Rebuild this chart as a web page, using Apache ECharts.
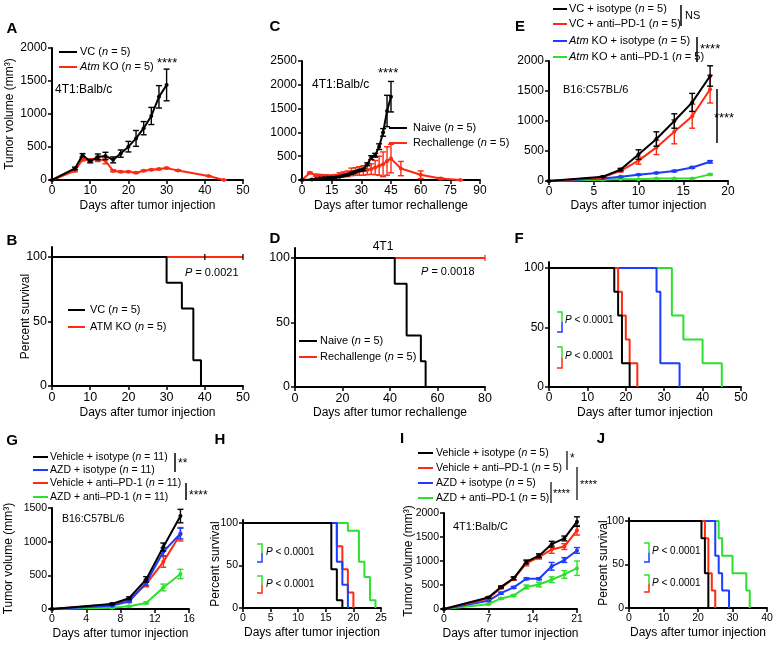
<!DOCTYPE html>
<html>
<head>
<meta charset="utf-8">
<script src="https://cdn.jsdelivr.net/npm/echarts@6/dist/echarts.min.js"></script>
<style>
  html, body { margin: 0; padding: 0; background: #fff; }
  #main { width: 777px; height: 645px; }
</style>
</head>
<body>
<div id="main"></div>
<script>
const FONT = '"Liberation Sans", Arial, sans-serif';
const BLACK = '#000000', RED = '#ff2a12', BLUE = '#1c3cff', GREEN = '#2ee02e';

// A - 4T1 VC vs Atm KO
const dayA_vc = [0, 6, 8, 10, 12, 14, 16, 18, 20, 22, 24, 26, 28, 30];
const volA_vc = [0, 175, 375, 285, 350, 365, 305, 400, 505, 630, 785, 970, 1260, 1440];
const semA_vc = [0, 20, 25, 25, 45, 55, 45, 55, 80, 120, 100, 130, 170, 240];
const dayA_ko = [0, 6, 8, 10, 12, 14, 16, 18, 20, 22, 24, 26, 28, 30, 33, 41, 45];
const volA_ko = [0, 140, 310, 300, 320, 290, 140, 125, 125, 110, 140, 155, 165, 180, 145, 60, 0];
const semA_ko = [0, 15, 20, 20, 40, 45, 15, 10, 10, 10, 10, 10, 10, 10, 10, 5, 0];

// B - survival
const kmB_vc_day = [0, 30, 34, 37, 39];
const kmB_vc_pct = [100, 80, 60, 20, 0];
const kmB_ko_day = [0, 50];
const kmB_ko_pct = [100, 100];
const censorB = [40, 50];

// C - rechallenge
const dayC_naive = [0, 5, 7, 9, 11, 13, 15, 17, 19, 21, 23, 25, 27, 29, 31, 33, 35, 37, 39, 41, 43, 45];
const volC_naive = [0, 10, 20, 30, 40, 45, 50, 55, 70, 90, 110, 140, 170, 200, 220, 330, 470, 520, 700, 1000, 1450, 1750];
const semC_naive = [0, 5, 5, 5, 5, 5, 5, 5, 10, 10, 15, 20, 20, 20, 25, 30, 40, 40, 60, 80, 330, 320];
const dayC_re = [0, 4, 7, 9, 11, 13, 15, 17, 19, 21, 23, 25, 27, 29, 31, 33, 35, 37, 39, 41, 43, 45, 50, 60, 70, 80];
const volC_re = [0, 150, 100, 95, 90, 85, 80, 85, 110, 120, 130, 170, 180, 190, 200, 210, 230, 260, 300, 330, 400, 450, 240, 110, 30, 0];
const semC_re = [0, 15, 20, 20, 20, 20, 20, 30, 40, 50, 60, 80, 80, 90, 100, 100, 110, 150, 200, 260, 300, 300, 150, 80, 20, 0];

// D - survival
const kmD_naive_day = [0, 42, 47, 53, 55];
const kmD_naive_pct = [100, 80, 40, 20, 0];
const kmD_re_day = [0, 80];
const kmD_re_pct = [100, 100];
const censorD = [80];

// E - B16 anti-PD-1
const dayE = [0, 6, 8, 10, 12, 14, 16, 18];
const volE_vcIso = [0, 70, 190, 440, 700, 1000, 1310, 1750];
const semE_vcIso = [0, 10, 20, 80, 120, 120, 150, 170];
const volE_vcPd1 = [0, 60, 170, 340, 560, 820, 1080, 1530];
const semE_vcPd1 = [0, 10, 20, 60, 120, 200, 200, 230];
const volE_koIso = [0, 40, 70, 105, 135, 165, 225, 320];
const semE_koIso = [0, 5, 8, 10, 10, 12, 15, 20];
const volE_koPd1 = [0, 20, 35, 30, 40, 40, 40, 110];
const semE_koPd1 = [0, 4, 5, 5, 5, 6, 6, 10];

// F - survival
const kmF_vcIso = [[0, 17, 18, 19, 21], [100, 80, 60, 20, 0]];
const kmF_vcPd1 = [[0, 18, 19, 20, 21, 23], [100, 80, 60, 40, 20, 0]];
const kmF_koIso = [[0, 28, 29, 34], [100, 80, 20, 0]];
const kmF_koPd1 = [[0, 32, 35, 40, 45], [100, 60, 40, 20, 0]];

// G - B16 AZD
const dayG = [0, 7, 9, 11, 13, 15];
const volG_vehIso = [0, 75, 160, 440, 920, 1380];
const semG_vehIso = [0, 10, 20, 40, 60, 100];
const volG_azdIso = [0, 50, 110, 390, 850, 1120];
const semG_azdIso = [0, 8, 15, 40, 60, 80];
const volG_vehPd1 = [0, 70, 130, 370, 700, 1110];
const semG_vehPd1 = [0, 10, 20, 40, 80, 100];
const volG_azdPd1 = [0, 20, 40, 90, 320, 520];
const semG_azdPd1 = [0, 5, 8, 15, 50, 70];

// H - survival (n = 11)
const kmH_vehIso = [[0, 16, 17, 18], [100, 45.5, 9.1, 0]];
const kmH_azdIso = [[0, 17, 18, 19], [100, 54.5, 27.3, 0]];
const kmH_vehPd1 = [[0, 17, 18, 19, 20], [100, 72.7, 45.5, 18.2, 0]];
const kmH_azdPd1 = [[0, 19, 21, 22, 23, 24], [100, 90.9, 54.5, 36.4, 9.1, 0]];

// I - 4T1 AZD
const dayI = [0, 7, 9, 11, 13, 15, 17, 19, 21];
const volI_vehIso = [0, 240, 460, 640, 980, 1110, 1350, 1470, 1820];
const semI_vehIso = [0, 15, 20, 30, 40, 40, 60, 50, 100];
const volI_vehPd1 = [0, 220, 440, 630, 950, 1080, 1240, 1300, 1640];
const semI_vehPd1 = [0, 15, 20, 30, 50, 40, 80, 60, 100];
const volI_azdIso = [0, 170, 330, 450, 630, 630, 890, 1020, 1220];
const semI_azdIso = [0, 10, 20, 20, 20, 20, 80, 50, 60];
const volI_azdPd1 = [0, 100, 220, 280, 460, 510, 610, 720, 850];
const semI_azdPd1 = [0, 10, 15, 20, 40, 50, 60, 80, 150];

// J - survival
const kmJ_vehIso = [[0, 21, 22, 23], [100, 80, 40, 0]];
const kmJ_vehPd1 = [[0, 22, 23, 24, 25], [100, 80, 40, 20, 0]];
const kmJ_azdIso = [[0, 25, 26, 27, 29], [100, 60, 40, 20, 0]];
const kmJ_azdPd1 = [[0, 26, 27, 30, 34, 35], [100, 80, 60, 40, 20, 0]];

const zip = (xs, ys) => xs.map((x, i) => [x, ys[i]]);

const chart = echarts.init(document.getElementById('main'));

// grid order: A B C D E F G H I J
const grids = [
  { left: 52, top: 48, width: 191, height: 132 },
  { left: 52, top: 247, width: 191, height: 139 },
  { left: 302, top: 61, width: 178, height: 119 },
  { left: 295, top: 248, width: 190, height: 139 },
  { left: 549, top: 61, width: 179, height: 120 },
  { left: 549, top: 262, width: 192, height: 125 },
  { left: 52, top: 508, width: 137, height: 101 },
  { left: 243, top: 520, width: 138, height: 88 },
  { left: 444, top: 513, width: 133, height: 96 },
  { left: 629, top: 518, width: 138, height: 90 },
].map(g => Object.assign({ outerBoundsMode: 'none', containLabel: false }, g));

// tick label size per panel (the source panels were scaled differently)
const tickSize = [12, 12.5, 12, 12.5, 12, 12, 10.5, 10.5, 10.5, 10.5];

const axisBase = (grid) => ({
  type: 'value',
  gridIndex: grid,
  axisLine: { show: true, onZero: false, lineStyle: { color: '#000', width: 2 } },
  axisTick: { show: true, length: 4, lineStyle: { color: '#000', width: 1.5 } },
  axisLabel: { color: '#000', fontSize: tickSize[grid], fontFamily: FONT, margin: 5, formatter: v => String(v) },
  splitLine: { show: false },
  nameLocation: 'middle',
  nameMoveOverlap: false,
  nameTextStyle: { color: '#000', fontSize: 12, fontFamily: FONT },
});

function xAx(grid, max, interval, name, gap) {
  return Object.assign(axisBase(grid), { min: 0, max, interval, name, nameGap: gap });
}
function yAx(grid, max, interval, name, gap) {
  return Object.assign(axisBase(grid), { min: 0, max, interval, name, nameGap: gap });
}
function yPct(grid, max, name, gap) {
  const a = Object.assign(axisBase(grid), { min: 0, max, name, nameGap: gap });
  a.axisLabel.customValues = [0, 50, 100];
  a.axisTick.customValues = [0, 50, 100];
  return a;
}

const xAxes = [
  xAx(0, 50, 10, 'Days after tumor injection', 20),
  xAx(1, 50, 10, 'Days after tumor injection', 21),
  xAx(2, 90, 15, 'Days after tumor rechallenge', 20),
  xAx(3, 80, 20, 'Days after tumor rechallenge', 20),
  xAx(4, 20, 5, 'Days after tumor injection', 19),
  xAx(5, 50, 10, 'Days after tumor injection', 20),
  xAx(6, 16, 4, 'Days after tumor injection', 19),
  xAx(7, 25, 5, 'Days after tumor injection', 19),
  xAx(8, 21, 7, 'Days after tumor injection', 19),
  xAx(9, 40, 10, 'Days after tumor injection', 19),
];
const yAxes = [
  yAx(0, 2000, 500, 'Tumor volume (mm³)', 36),
  yPct(1, 107.75, 'Percent survival', 20),
  yAx(2, 2500, 500, '', 0),
  yPct(3, 107.75, '', 0),
  yAx(4, 2000, 500, '', 0),
  yPct(5, 105, '', 0),
  yAx(6, 1500, 500, 'Tumor volume (mm³)', 37),
  yPct(7, 103.5, 'Percent survival', 21),
  yAx(8, 2000, 500, 'Tumor volume (mm³)', 29),
  yPct(9, 103.4, 'Percent survival', 19),
];

function curve(idx, days, vals, color, z) {
  return {
    type: 'line', xAxisIndex: idx, yAxisIndex: idx, data: zip(days, vals),
    lineStyle: { color, width: 2 }, itemStyle: { color },
    symbol: 'circle', symbolSize: 4, z, silent: true,
  };
}

function errBars(idx, days, vals, sem, color, z) {
  return {
    type: 'custom', xAxisIndex: idx, yAxisIndex: idx, z, silent: true,
    data: days.map((d, i) => [d, Math.max(0, vals[i] - sem[i]), vals[i] + sem[i]]),
    encode: { x: 0, y: [1, 2] },
    renderItem: (params, api) => {
      const x = api.value(0);
      const lo = api.coord([x, api.value(1)]);
      const hi = api.coord([x, api.value(2)]);
      const st = { stroke: color, lineWidth: 1.4 };
      return {
        type: 'group', children: [
          { type: 'line', shape: { x1: lo[0], y1: lo[1], x2: hi[0], y2: hi[1] }, style: st },
          { type: 'line', shape: { x1: lo[0] - 3, y1: lo[1], x2: lo[0] + 3, y2: lo[1] }, style: st },
          { type: 'line', shape: { x1: hi[0] - 3, y1: hi[1], x2: hi[0] + 3, y2: hi[1] }, style: st },
        ],
      };
    },
  };
}

function km(idx, days, pct, color, z) {
  return {
    type: 'line', step: 'end', xAxisIndex: idx, yAxisIndex: idx, data: zip(days, pct),
    lineStyle: { color, width: 2 }, symbol: 'none', z, silent: true,
  };
}

function censor(idx, days, color) {
  return {
    type: 'scatter', xAxisIndex: idx, yAxisIndex: idx, data: days.map(d => [d, 100]),
    symbol: 'rect', symbolSize: [1.6, 6], itemStyle: { color }, z: 6, silent: true,
  };
}

const series = [
  // A
  errBars(0, dayA_ko, volA_ko, semA_ko, RED, 3),
  curve(0, dayA_ko, volA_ko, RED, 3),
  errBars(0, dayA_vc, volA_vc, semA_vc, BLACK, 4),
  curve(0, dayA_vc, volA_vc, BLACK, 4),
  // B
  km(1, kmB_ko_day, kmB_ko_pct, RED, 3),
  km(1, kmB_vc_day, kmB_vc_pct, BLACK, 4),
  censor(1, censorB, BLACK),
  // C
  errBars(2, dayC_re, volC_re, semC_re, RED, 3),
  curve(2, dayC_re, volC_re, RED, 3),
  errBars(2, dayC_naive, volC_naive, semC_naive, BLACK, 4),
  curve(2, dayC_naive, volC_naive, BLACK, 4),
  // D
  km(3, kmD_re_day, kmD_re_pct, RED, 3),
  km(3, kmD_naive_day, kmD_naive_pct, BLACK, 4),
  censor(3, censorD, RED),
  // E
  errBars(4, dayE, volE_koPd1, semE_koPd1, GREEN, 2),
  curve(4, dayE, volE_koPd1, GREEN, 2),
  errBars(4, dayE, volE_koIso, semE_koIso, BLUE, 3),
  curve(4, dayE, volE_koIso, BLUE, 3),
  errBars(4, dayE, volE_vcPd1, semE_vcPd1, RED, 4),
  curve(4, dayE, volE_vcPd1, RED, 4),
  errBars(4, dayE, volE_vcIso, semE_vcIso, BLACK, 5),
  curve(4, dayE, volE_vcIso, BLACK, 5),
  // F
  km(5, kmF_koPd1[0], kmF_koPd1[1], GREEN, 2),
  km(5, kmF_koIso[0], kmF_koIso[1], BLUE, 3),
  km(5, kmF_vcPd1[0], kmF_vcPd1[1], RED, 4),
  km(5, kmF_vcIso[0], kmF_vcIso[1], BLACK, 5),
  // G
  errBars(6, dayG, volG_azdPd1, semG_azdPd1, GREEN, 2),
  curve(6, dayG, volG_azdPd1, GREEN, 2),
  errBars(6, dayG, volG_vehPd1, semG_vehPd1, RED, 3),
  curve(6, dayG, volG_vehPd1, RED, 3),
  errBars(6, dayG, volG_azdIso, semG_azdIso, BLUE, 4),
  curve(6, dayG, volG_azdIso, BLUE, 4),
  errBars(6, dayG, volG_vehIso, semG_vehIso, BLACK, 5),
  curve(6, dayG, volG_vehIso, BLACK, 5),
  // H
  km(7, kmH_azdPd1[0], kmH_azdPd1[1], GREEN, 2),
  km(7, kmH_vehPd1[0], kmH_vehPd1[1], RED, 3),
  km(7, kmH_azdIso[0], kmH_azdIso[1], BLUE, 4),
  km(7, kmH_vehIso[0], kmH_vehIso[1], BLACK, 5),
  // I
  errBars(8, dayI, volI_azdPd1, semI_azdPd1, GREEN, 2),
  curve(8, dayI, volI_azdPd1, GREEN, 2),
  errBars(8, dayI, volI_azdIso, semI_azdIso, BLUE, 3),
  curve(8, dayI, volI_azdIso, BLUE, 3),
  errBars(8, dayI, volI_vehPd1, semI_vehPd1, RED, 4),
  curve(8, dayI, volI_vehPd1, RED, 4),
  errBars(8, dayI, volI_vehIso, semI_vehIso, BLACK, 5),
  curve(8, dayI, volI_vehIso, BLACK, 5),
  // J
  km(9, kmJ_azdPd1[0], kmJ_azdPd1[1], GREEN, 2),
  km(9, kmJ_azdIso[0], kmJ_azdIso[1], BLUE, 3),
  km(9, kmJ_vehPd1[0], kmJ_vehPd1[1], RED, 4),
  km(9, kmJ_vehIso[0], kmJ_vehIso[1], BLACK, 5),
];

// ---- annotation helpers ----
function txt(x, y, text, size, extra) {
  return {
    type: 'text', x, y, z: 20, silent: true,
    style: Object.assign({
      text, fill: '#000', fontSize: size, fontFamily: FONT,
      align: 'left', verticalAlign: 'middle',
      textAlign: 'left', textVerticalAlign: 'middle',
      rich: {
        i: { fontStyle: 'italic', fontSize: size, fontFamily: FONT, fill: '#000' },
      },
    }, extra || {}),
  };
}
function panel(x, y, letter) {
  return txt(x, y, letter, 15, { fontWeight: 900, align: 'center', textAlign: 'center' });
}
function seg(x1, y1, x2, y2, color, w) {
  return { type: 'line', z: 20, silent: true, shape: { x1, y1, x2, y2 }, style: { stroke: color, lineWidth: w || 1.5 } };
}
function legendRow(x1, x2, tx, y, color, text, size) {
  return [seg(x1, y, x2, y, color, 2), txt(tx, y, text, size)];
}
function bracket(x, y1, y2, cTop, cBot) {
  const ym = (y1 + y2) / 2;
  return [
    { type: 'polyline', z: 20, silent: true, shape: { points: [[x - 5, y1], [x, y1], [x, ym]] }, style: { stroke: cTop, lineWidth: 1.5, fill: null } },
    { type: 'polyline', z: 20, silent: true, shape: { points: [[x, ym], [x, y2], [x - 5, y2]] }, style: { stroke: cBot, lineWidth: 1.5, fill: null } },
  ];
}

const elements = [
  panel(12, 29, 'A'), panel(12, 241, 'B'), panel(275, 27, 'C'), panel(275, 239, 'D'),
  panel(520, 27, 'E'), panel(519, 239, 'F'), panel(12, 441, 'G'), panel(220, 440, 'H'),
  panel(402, 439, 'I'), panel(601, 439, 'J'),

  // A
  ...legendRow(59, 77, 80, 52, BLACK, 'VC ({i|n} = 5)', 11),
  ...legendRow(59, 77, 80, 67, RED, '{i|Atm} KO ({i|n} = 5)', 11),
  txt(157, 63, '****', 13),
  txt(55, 90, '4T1:Balb/c', 12),

  // B
  ...legendRow(68, 85, 90, 310, BLACK, 'VC ({i|n} = 5)', 11),
  ...legendRow(68, 85, 90, 327, RED, 'ATM KO ({i|n} = 5)', 11),
  txt(185, 273, '{i|P} = 0.0021', 11),

  // C
  ...legendRow(389, 407, 413, 128, BLACK, 'Naive ({i|n} = 5)', 11),
  ...legendRow(389, 407, 413, 143, RED, 'Rechallenge ({i|n} = 5)', 11),
  txt(378, 73, '****', 13),
  txt(312, 85, '4T1:Balb/c', 12),

  // D
  txt(383, 247, '4T1', 12, { align: 'center', textAlign: 'center' }),
  ...legendRow(299, 317, 320, 341, BLACK, 'Naive ({i|n} = 5)', 11),
  ...legendRow(299, 317, 320, 357, RED, 'Rechallenge ({i|n} = 5)', 11),
  txt(421, 272, '{i|P} = 0.0018', 11),

  // E
  ...legendRow(553, 567, 569, 9, BLACK, 'VC + isotype ({i|n} = 5)', 11),
  ...legendRow(553, 567, 569, 24, RED, 'VC + anti–PD-1 ({i|n} = 5)', 11),
  ...legendRow(553, 567, 569, 41, BLUE, '{i|Atm} KO + isotype ({i|n} = 5)', 11),
  ...legendRow(553, 567, 569, 57, GREEN, '{i|Atm} KO + anti–PD-1 ({i|n} = 5)', 11),
  seg(681, 5, 681, 26, '#000', 1.5),
  txt(685, 16, 'NS', 11),
  seg(697, 37, 697, 62, '#000', 1.5),
  txt(700, 49, '****', 13),
  seg(717, 89, 717, 143, '#000', 1.5),
  txt(724, 118, '****', 13, { align: 'center', textAlign: 'center', rotation: -Math.PI / 2 }),
  txt(563, 90, 'B16:C57BL/6', 11),

  // F
  ...bracket(562, 312, 332, GREEN, BLUE),
  txt(565, 320, '{i|P} < 0.0001', 10),
  ...bracket(562, 347, 368, GREEN, RED),
  txt(565, 356, '{i|P} < 0.0001', 10),

  // G
  ...legendRow(33, 48, 50, 457, BLACK, 'Vehicle + isotype ({i|n} = 11)', 10.5),
  ...legendRow(33, 48, 50, 470, BLUE, 'AZD + isotype ({i|n} = 11)', 10.5),
  ...legendRow(33, 48, 50, 483, RED, 'Vehicle + anti–PD-1 ({i|n} = 11)', 10.5),
  ...legendRow(33, 48, 50, 497, GREEN, 'AZD + anti–PD-1 ({i|n} = 11)', 10.5),
  seg(175, 453, 175, 472, '#000', 1.5),
  txt(178, 464, '**', 12),
  seg(186, 483, 186, 500, '#000', 1.5),
  txt(189, 496, '****', 12),
  txt(62, 519, 'B16:C57BL/6', 10.5),

  // H
  ...bracket(262, 544, 562, GREEN, BLUE),
  txt(266, 552, '{i|P} < 0.0001', 10),
  ...bracket(262, 576, 593, GREEN, RED),
  txt(266, 584, '{i|P} < 0.0001', 10),

  // I
  ...legendRow(418, 433, 436, 453, BLACK, 'Vehicle + isotype ({i|n} = 5)', 10.5),
  ...legendRow(418, 433, 436, 468, RED, 'Vehicle + anti–PD-1 ({i|n} = 5)', 10.5),
  ...legendRow(418, 433, 436, 483, BLUE, 'AZD + isotype ({i|n} = 5)', 10.5),
  ...legendRow(418, 433, 436, 498, GREEN, 'AZD + anti–PD-1 ({i|n} = 5)', 10.5),
  seg(567, 451, 567, 470, '#000', 1.2),
  txt(570, 459, '*', 12),
  seg(551, 482, 551, 503, '#000', 1.2),
  txt(553, 494, '****', 11),
  seg(577, 467, 577, 500, '#000', 1.2),
  txt(580, 485, '****', 11),
  txt(453, 527, '4T1:Balb/C', 11),

  // J
  ...bracket(649, 543, 562, GREEN, BLUE),
  txt(652, 551, '{i|P} < 0.0001', 10),
  ...bracket(649, 575, 592, GREEN, RED),
  txt(652, 583, '{i|P} < 0.0001', 10),
];

chart.setOption({
  animation: false,
  backgroundColor: '#fff',
  grid: grids,
  xAxis: xAxes,
  yAxis: yAxes,
  series,
  graphic: { elements },
});
</script>
</body>
</html>
